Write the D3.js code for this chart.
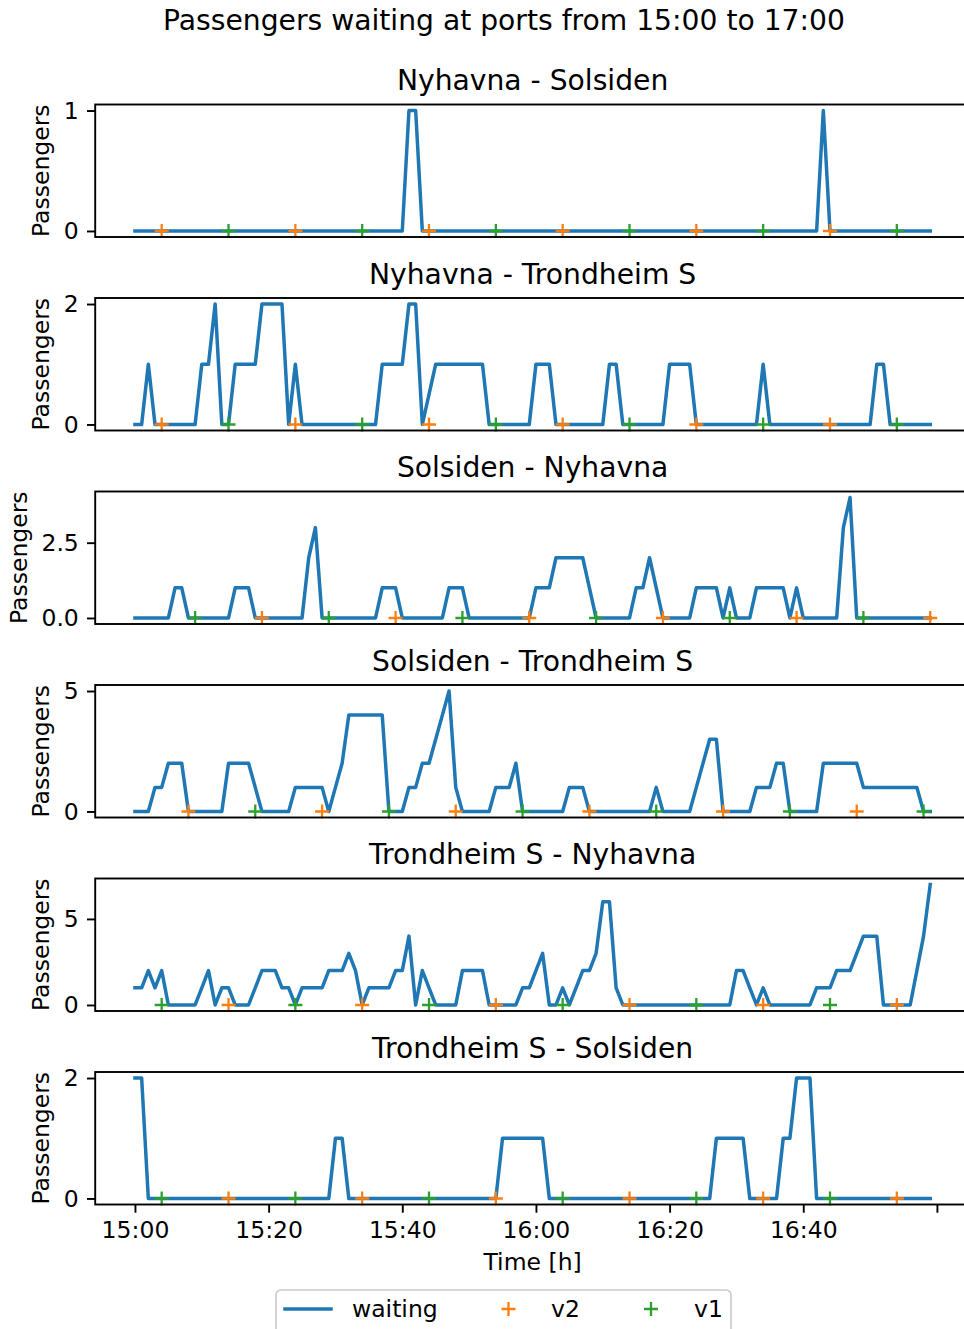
<!DOCTYPE html>
<html><head><meta charset="utf-8">
<script src="https://cdn.jsdelivr.net/npm/d3@7"></script>
<style>body{margin:0;background:#fff}svg{display:block}text{font-family:"DejaVu Sans",sans-serif;fill:#000}</style>
</head><body><svg id="c" width="964" height="1329"></svg>
<script>
// ---------- data ----------
const suptitle = "Passengers waiting at ports from 15:00 to 17:00";
const routes = ["Nyhavna - Solsiden","Nyhavna - Trondheim S","Solsiden - Nyhavna","Solsiden - Trondheim S","Trondheim S - Nyhavna","Trondheim S - Solsiden"];
// minutes after 15:00 (one sample per minute, 15:00 .. 16:59)
const minuteIndex = d3.range(0, 120);
const waitNS = [
 0,0,0,0,0,0,0,0,0,0, 0,0,0,0,0,0,0,0,0,0, 0,0,0,0,0,0,0,0,0,0, 0,0,0,0,0,0,0,0,0,0,
 0,1,1,0,0,0,0,0,0,0, 0,0,0,0,0,0,0,0,0,0, 0,0,0,0,0,0,0,0,0,0, 0,0,0,0,0,0,0,0,0,0,
 0,0,0,0,0,0,0,0,0,0, 0,0,0,0,0,0,0,0,0,0, 0,0,0,1,0,0,0,0,0,0, 0,0,0,0,0,0,0,0,0,0];
const waitNT = [
 0,0,1,0,0,0,0,0,0,0, 1,1,2,0,0,1,1,1,1,2, 2,2,2,0,1,0,0,0,0,0, 0,0,0,0,0,0,0,1,1,1,
 1,2,2,0,0.5,1,1,1,1,1, 1,1,1,0,0,0,0,0,0,0, 1,1,1,0,0,0,0,0,0,0, 0,1,1,0,0,0,0,0,0,0,
 1,1,1,1,0,0,0,0,0,0, 0,0,0,0,1,0,0,0,0,0, 0,0,0,0,0,0,0,0,0,0, 0,1,1,0,0,0,0,0,0,0];
const waitSN = [
 0,0,0,0,0,0,1,1,0,0, 0,0,0,0,0,1,1,1,0,0, 0,0,0,0,0,0,2,3,0,0, 0,0,0,0,0,0,0,1,1,1,
 0,0,0,0,0,0,0,1,1,1, 0,0,0,0,0,0,0,0,0,0, 1,1,1,2,2,2,2,2,1,0, 0,0,0,0,0,1,1,2,1,0,
 0,0,0,0,1,1,1,1,0,1, 0,0,0,1,1,1,1,1,0,1, 0,0,0,0,0,0,3,4,0,0, 0,0,0,0,0,0,0,0,0,0];
const waitST = [
 0,0,0,1,1,2,2,2,0,0, 0,0,0,0,2,2,2,2,1,0, 0,0,0,0,1,1,1,1,1,0, 1,2,4,4,4,4,4,4,0,0,
 0,1,1,2,2,3,4,5,1,0, 0,0,0,0,1,1,1,2,0,0, 0,0,0,0,0,1,1,1,0,0, 0,0,0,0,0,0,0,0,1,0,
 0,0,0,0,1,2,3,3,0,0, 0,0,0,1,1,1,2,2,0,0, 0,0,0,2,2,2,2,2,2,1, 1,1,1,1,1,1,1,1,0,0];
const waitTN = [
 1,1,2,1,2,0,0,0,0,0, 1,2,0,1,1,0,0,0,1,2, 2,2,1,1,0,1,1,1,1,2, 2,2,3,2,0,1,1,1,1,2,
 2,4,0,2,1,0,0,0,0,2, 2,2,2,0,0,0,0,0,1,1, 2,3,0,0,1,0,1,2,2,3, 6,6,1,0,0,0,0,0,0,0,
 0,0,0,0,0,0,0,0,0,0, 2,2,1,0,1,0,0,0,0,0, 0,0,1,1,1,2,2,2,3,4, 4,4,0,0,0,0,0,2,4,7];
const waitTS = [
 2,2,0,0,0,0,0,0,0,0, 0,0,0,0,0,0,0,0,0,0, 0,0,0,0,0,0,0,0,0,0, 1,1,0,0,0,0,0,0,0,0,
 0,0,0,0,0,0,0,0,0,0, 0,0,0,0,0,1,1,1,1,1, 1,1,0,0,0,0,0,0,0,0, 0,0,0,0,0,0,0,0,0,0,
 0,0,0,0,0,0,0,1,1,1, 1,1,0,0,0,0,0,1,1,2, 2,2,0,0,0,0,0,0,0,0, 0,0,0,0,0,0,0,0,0,0];
// vessel arrival minutes (after 15:00)
const v2NS = [4,24,44,64,84,104],  v1NS = [14,34,54,74,94,114];
const v2NT = [4,24,44,64,84,104],  v1NT = [14,34,54,74,94,114];
const v2SN = [19,39,59,79,99,119], v1SN = [9,29,49,69,89,109];
const v2ST = [8,28,48,68,88,108],  v1ST = [18,38,58,78,98,118];
const v2TN = [14,34,54,74,94,114], v1TN = [4,24,44,64,84,104];
const v2TS = [14,34,54,74,94,114], v1TS = [4,24,44,64,84,104];
const yTicksList = [[0,1],[0,2],[0,2.5],[0,5],[0,5],[0,2]];
const xTickMinutes = [0,20,40,60,80,100,120];
const xTickLabels = ["15:00","15:20","15:40","16:00","16:20","16:40",""];
const legendLabels = ["waiting","v2","v1"];

const waits = [waitNS,waitNT,waitSN,waitST,waitTN,waitTS];
const v2s = [v2NS,v2NT,v2SN,v2ST,v2TN,v2TS];
const v1s = [v1NS,v1NT,v1SN,v1ST,v1TN,v1TS];

// ---------- layout ----------
const C = {blue:"#1f77b4", orange:"#ff7f0e", green:"#2ca02c"};
const fs = 23.5, tfs = 28.2;
const L = 95.2, R = 970, top0 = 104.5, step = 193.5, H = 132.5;
const TK = 8.2, LW = 3.5, SW = 1.9;
const svg = d3.select("#c");
const base = new Date(2024,0,1,15,0,0);
const tm = m => new Date(base.getTime() + m*60000);
const x = d3.scaleTime().domain([tm(-5.95), tm(124.95)]).range([L, R]);

svg.append("text").attr("x",504).attr("y",30).attr("text-anchor","middle")
  .style("font-size",tfs+"px").text(suptitle);

const plus = "M-7,0H7M0,-7V7";

routes.forEach((name,i)=>{
  const top = top0 + i*step;
  const data = waits[i];
  const ymax = d3.max(data);
  const y = d3.scaleLinear().domain([-0.05*ymax, 1.05*ymax]).range([top+H, top]);
  const g = svg.append("g");
  const clipId = "clip"+i;
  g.append("clipPath").attr("id",clipId).append("rect").attr("x",L).attr("y",top).attr("width",R-L).attr("height",H);
  const line = d3.line().x((d,j)=>x(tm(minuteIndex[j]))).y(d=>y(d));
  g.append("path").datum(data).attr("d",line).attr("fill","none")
    .attr("stroke",C.blue).attr("stroke-width",LW).attr("stroke-linejoin","round").attr("stroke-linecap","square")
    .attr("clip-path",`url(#${clipId})`);
  [[v2s[i],C.orange],[v1s[i],C.green]].forEach(([arr,col])=>{
    g.selectAll(null).data(arr).enter().append("path").attr("d",plus)
      .attr("transform",m=>`translate(${x(tm(m))},${y(0)})`)
      .attr("stroke",col).attr("stroke-width",2.3).attr("fill","none");
  });
  g.append("rect").attr("x",L).attr("y",top).attr("width",R-L).attr("height",H)
    .attr("fill","none").attr("stroke","#000").attr("stroke-width",SW);
  const fmt = yTicksList[i].some(v=>v%1!==0) ? d3.format(".1f") : d3.format("d");
  const ya = g.append("g").attr("transform",`translate(${L},0)`)
    .call(d3.axisLeft(y).tickValues(yTicksList[i]).tickFormat(fmt).tickSize(TK).tickPadding(TK));
  ya.select(".domain").remove();
  ya.attr("font-family",null).attr("font-size",null);
  ya.selectAll("line").attr("stroke-width",SW);
  ya.selectAll("text").style("font-size",fs+"px").attr("fill","#000");
  let minX = Infinity;
  ya.selectAll("text").each(function(){ const b=this.getBBox(); minX=Math.min(minX, L+b.x); });
  g.append("text").attr("transform",`translate(${minX-9.4-5.5},${top+H/2}) rotate(-90)`)
    .attr("text-anchor","middle").style("font-size",fs+"px").text("Passengers");
  g.append("text").attr("x",(L+R)/2).attr("y",top-14.1).attr("text-anchor","middle")
    .style("font-size",tfs+"px").text(name);
  if(i===routes.length-1){
    const xa = g.append("g").attr("transform",`translate(0,${top+H})`)
      .call(d3.axisBottom(x).tickValues(xTickMinutes.map(tm)).tickFormat((d,k)=>xTickLabels[k]).tickSize(TK).tickPadding(TK));
    xa.select(".domain").remove();
    xa.attr("font-family",null).attr("font-size",null);
    xa.selectAll("line").attr("stroke-width",SW);
    xa.selectAll("text").style("font-size",fs+"px").attr("fill","#000");
    g.append("text").attr("x",(L+R)/2).attr("y",1270).attr("text-anchor","middle")
      .style("font-size",fs+"px").text("Time [h]");
  }
});

// legend
const lg = svg.append("g");
lg.append("rect").attr("x",276).attr("y",1290).attr("width",455).attr("height",50).attr("rx",5)
  .attr("fill","#fff").attr("stroke","#cccccc").attr("stroke-width",1.7);
const ly = 1309;
lg.append("line").attr("x1",285).attr("x2",331).attr("y1",ly).attr("y2",ly)
  .attr("stroke",C.blue).attr("stroke-width",LW).attr("stroke-linecap","square");
lg.append("path").attr("d",plus).attr("transform",`translate(508.5,${ly})`).attr("stroke",C.orange).attr("stroke-width",2.3);
lg.append("path").attr("d",plus).attr("transform",`translate(651,${ly})`).attr("stroke",C.green).attr("stroke-width",2.3);
[[352,legendLabels[0]],[551,legendLabels[1]],[694,legendLabels[2]]].forEach(([lx,t])=>{
  lg.append("text").attr("x",lx).attr("y",ly).attr("dy","0.35em").style("font-size",fs+"px").text(t);
});
</script></body></html>
